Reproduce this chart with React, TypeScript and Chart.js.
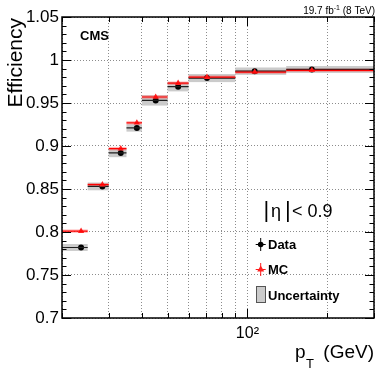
import React, { useEffect, useRef } from "react";
import { Chart, registerables } from "chart.js";

Chart.register(...registerables);

// ---- data ----
const binEdges = [20, 25, 30, 35, 40, 50, 60, 90, 140, 300];
const meanPt = [23.6, 28.4, 33.3, 38.3, 45.1, 54.8, 70.4, 106.5, 175];
const dataEff = [0.782, 0.853, 0.892, 0.921, 0.953, 0.969, 0.979, 0.987, 0.989];
const dataUnc = [0.004, 0.0045, 0.005, 0.0043, 0.006, 0.0055, 0.0047, 0.0043, 0.004];
const mcEff = [0.801, 0.855, 0.897, 0.927, 0.957, 0.973, 0.98, 0.986, 0.988];
const mcUnc = [0.002, 0.002, 0.002, 0.002, 0.002, 0.002, 0.002, 0.002, 0.002];

const xTicks = [20, 30, 40, 50, 60, 70, 80, 90, 100, 200, 300];
const xMajor = [100];
const yTicks = [0.7, 0.75, 0.8, 0.85, 0.9, 0.95, 1.0, 1.05];
const yMinorStep = 0.01;

const FONT = "'Liberation Sans', Arial, Helvetica, sans-serif";

function stepPoints(vals: number[]) {
  const pts: { x: number; y: number | null }[] = [];
  for (let i = 0; i < vals.length; i++) {
    pts.push({ x: binEdges[i], y: vals[i] });
    pts.push({ x: binEdges[i + 1], y: vals[i] });
    pts.push({ x: binEdges[i + 1], y: null });
  }
  return pts;
}

const overlay = {
  id: "overlay",
  beforeDatasetsDraw(chart: any) {
    const { ctx, chartArea: a, scales } = chart;
    const x = scales.x;
    const y = scales.y;
    ctx.save();
    ctx.beginPath();
    ctx.rect(a.left, a.top, a.right - a.left, a.bottom - a.top);
    ctx.clip();
    ctx.fillStyle = "#cbcbcb";
    for (let i = 0; i < dataEff.length; i++) {
      const x0 = x.getPixelForValue(binEdges[i]);
      const x1 = x.getPixelForValue(binEdges[i + 1]);
      const y0 = y.getPixelForValue(dataEff[i] + dataUnc[i]);
      const y1 = y.getPixelForValue(dataEff[i] - dataUnc[i]);
      ctx.fillRect(x0, y0, x1 - x0, y1 - y0);
    }
    ctx.fillStyle = "rgba(255,60,60,0.35)";
    for (let i = 0; i < mcEff.length; i++) {
      const x0 = x.getPixelForValue(binEdges[i]);
      const x1 = x.getPixelForValue(binEdges[i + 1]);
      const y0 = y.getPixelForValue(mcEff[i] + mcUnc[i]);
      const y1 = y.getPixelForValue(mcEff[i] - mcUnc[i]);
      ctx.fillRect(x0, y0, x1 - x0, y1 - y0);
    }
    ctx.restore();
  },
  afterDraw(chart: any) {
    const { ctx, chartArea: a, scales } = chart;
    const x = scales.x;
    const y = scales.y;
    ctx.save();
    // frame
    ctx.strokeStyle = "#000";
    ctx.lineWidth = 1.5;
    ctx.strokeRect(a.left, a.top, a.right - a.left, a.bottom - a.top);
    ctx.lineWidth = 1;
    // y ticks (left and right, inward)
    ctx.beginPath();
    const yMin = yTicks[0];
    const yMax = yTicks[yTicks.length - 1];
    const nMinor = Math.round((yMax - yMin) / yMinorStep);
    for (let k = 0; k <= nMinor; k++) {
      const v = yMin + k * yMinorStep;
      const isMajor = yTicks.some((t) => Math.abs(t - v) < 1e-6);
      const len = isMajor ? 9 : 4.5;
      const py = Math.round(y.getPixelForValue(v)) + 0.5;
      ctx.moveTo(a.left, py);
      ctx.lineTo(a.left + len, py);
      ctx.moveTo(a.right, py);
      ctx.lineTo(a.right - len, py);
    }
    // x ticks (top and bottom, inward)
    for (const v of xTicks) {
      const len = xMajor.includes(v) ? 9 : 5;
      const px = Math.round(x.getPixelForValue(v)) + 0.5;
      ctx.moveTo(px, a.bottom);
      ctx.lineTo(px, a.bottom - len);
      ctx.moveTo(px, a.top);
      ctx.lineTo(px, a.top + len);
    }
    ctx.stroke();

    ctx.fillStyle = "#000";
    ctx.textBaseline = "alphabetic";
    // y title
    ctx.save();
    ctx.translate(22, 18);
    ctx.rotate(-Math.PI / 2);
    ctx.textAlign = "right";
    ctx.font = `21px ${FONT}`;
    ctx.fillText("Efficiency", 0, 0);
    ctx.restore();

    // x title: p_T (GeV)
    ctx.textAlign = "left";
    ctx.font = `19px ${FONT}`;
    ctx.fillText("p", 295, 357.5);
    ctx.font = `13px ${FONT}`;
    ctx.fillText("T", 306, 368);
    ctx.font = `19px ${FONT}`;
    ctx.textAlign = "right";
    ctx.fillText("(GeV)", 374, 357.5);

    // lumi label
    ctx.font = `10px ${FONT}`;
    ctx.textAlign = "right";
    const tail = " (8 TeV)";
    ctx.fillText(tail, 375, 13.5);
    const wTail = ctx.measureText(tail).width;
    ctx.font = `7px ${FONT}`;
    ctx.fillText("-1", 375 - wTail, 9.5);
    const wSup = ctx.measureText("-1").width;
    ctx.font = `10px ${FONT}`;
    ctx.fillText("19.7 fb", 375 - wTail - wSup, 13.5);

    // CMS
    ctx.textAlign = "left";
    ctx.font = `bold 13px ${FONT}`;
    ctx.fillText("CMS", 80, 40);

    // |eta| < 0.9
    ctx.font = `22px ${FONT}`;
    ctx.fillText("|", 263.5, 217);
    ctx.fillText("|", 285, 217);
    ctx.font = `18px ${FONT}`;
    ctx.fillText("η", 271, 216.5);
    ctx.fillText("< 0.9", 292, 216.5);

    // legend
    const mx = 260.7;
    // Data
    ctx.strokeStyle = "#000";
    ctx.lineWidth = 1;
    ctx.beginPath();
    ctx.moveTo(mx - 5, 244.5);
    ctx.lineTo(mx + 5, 244.5);
    ctx.moveTo(mx, 238);
    ctx.lineTo(mx, 251);
    ctx.stroke();
    ctx.beginPath();
    ctx.arc(mx, 244.5, 2.8, 0, Math.PI * 2);
    ctx.fill();
    ctx.font = `bold 13px ${FONT}`;
    ctx.fillText("Data", 268, 249);
    // MC
    ctx.strokeStyle = "rgba(255,0,0,0.9)";
    ctx.fillStyle = "#ff2020";
    ctx.beginPath();
    ctx.moveTo(mx - 5, 269.5);
    ctx.lineTo(mx + 5, 269.5);
    ctx.moveTo(mx, 263);
    ctx.lineTo(mx, 276);
    ctx.stroke();
    ctx.beginPath();
    ctx.moveTo(mx, 265.5);
    ctx.lineTo(mx + 3.5, 271.5);
    ctx.lineTo(mx - 3.5, 271.5);
    ctx.closePath();
    ctx.fill();
    ctx.fillStyle = "#000";
    ctx.fillText("MC", 268, 274);
    // Uncertainty
    ctx.fillStyle = "#cbcbcb";
    ctx.fillRect(256, 286, 9.5, 16.5);
    ctx.strokeStyle = "#555";
    ctx.strokeRect(256.5, 286.5, 9, 16);
    ctx.fillStyle = "#000";
    ctx.fillText("Uncertainty", 268, 300);
    ctx.restore();
  },
};

export default function App() {
  const ref = useRef<HTMLCanvasElement | null>(null);
  useEffect(() => {
    document.body.style.margin = "0";
    const canvas = ref.current!;
    const chart = new Chart(canvas, {
      type: "scatter",
      data: {
        datasets: [
          {
            type: "line",
            label: "MC line",
            data: stepPoints(mcEff) as any,
            borderColor: "#ff0000",
            borderWidth: 1.2,
            pointRadius: 0,
            spanGaps: false,
            fill: false,
          },
          {
            type: "scatter",
            label: "MC",
            data: meanPt.map((v, i) => ({ x: v, y: mcEff[i] })),
            pointStyle: "triangle",
            pointRadius: 3.6,
            backgroundColor: "#ff2020",
            borderColor: "#ff2020",
            borderWidth: 0,
          },
          {
            type: "line",
            label: "Data line",
            data: stepPoints(dataEff) as any,
            borderColor: "#202020",
            borderWidth: 1.2,
            pointRadius: 0,
            spanGaps: false,
            fill: false,
          },
          {
            type: "scatter",
            label: "Data",
            data: meanPt.map((v, i) => ({ x: v, y: dataEff[i] })),
            pointStyle: "circle",
            pointRadius: 3,
            backgroundColor: "#000",
            borderColor: "#000",
            borderWidth: 0,
          },
        ],
      },
      options: {
        animation: false,
        responsive: false,
        devicePixelRatio: 1,
        layout: { padding: { top: 17, right: 16, left: 0, bottom: 0 } },
        plugins: { legend: { display: false }, tooltip: { enabled: false } },
        scales: {
          x: {
            type: "logarithmic",
            min: 20,
            max: 300,
            afterBuildTicks: (s: any) => {
              s.ticks = xTicks.map((v) => ({ value: v, major: xMajor.includes(v) }));
            },
            afterFit: (s: any) => {
              s.height = 56;
            },
            ticks: {
              autoSkip: false,
              maxRotation: 0,
              padding: 6,
              color: "#000",
              font: { family: FONT, size: 16 },
              callback: (v: any) => (xMajor.includes(Number(v)) ? "10²" : ""),
            },
            grid: { color: "rgba(0,0,0,0.45)", drawTicks: false, lineWidth: 1 },
            border: { display: false, dash: [1, 2] },
          },
          y: {
            type: "linear",
            min: 0.7,
            max: 1.05,
            afterBuildTicks: (s: any) => {
              s.ticks = yTicks.map((v) => ({ value: v }));
            },
            afterFit: (s: any) => {
              s.width = 62;
            },
            ticks: {
              padding: 3,
              color: "#000",
              font: { family: FONT, size: 17 },
              callback: (v: any) => String(Number(Number(v).toFixed(2))),
            },
            grid: { color: "rgba(0,0,0,0.45)", drawTicks: false, lineWidth: 1 },
            border: { display: false, dash: [1, 2] },
          },
        },
      },
      plugins: [overlay],
    });
    return () => chart.destroy();
  }, []);
  return (
    <canvas
      ref={ref}
      width={390}
      height={374}
      style={{ display: "block", width: 390, height: 374 }}
    />
  );
}
